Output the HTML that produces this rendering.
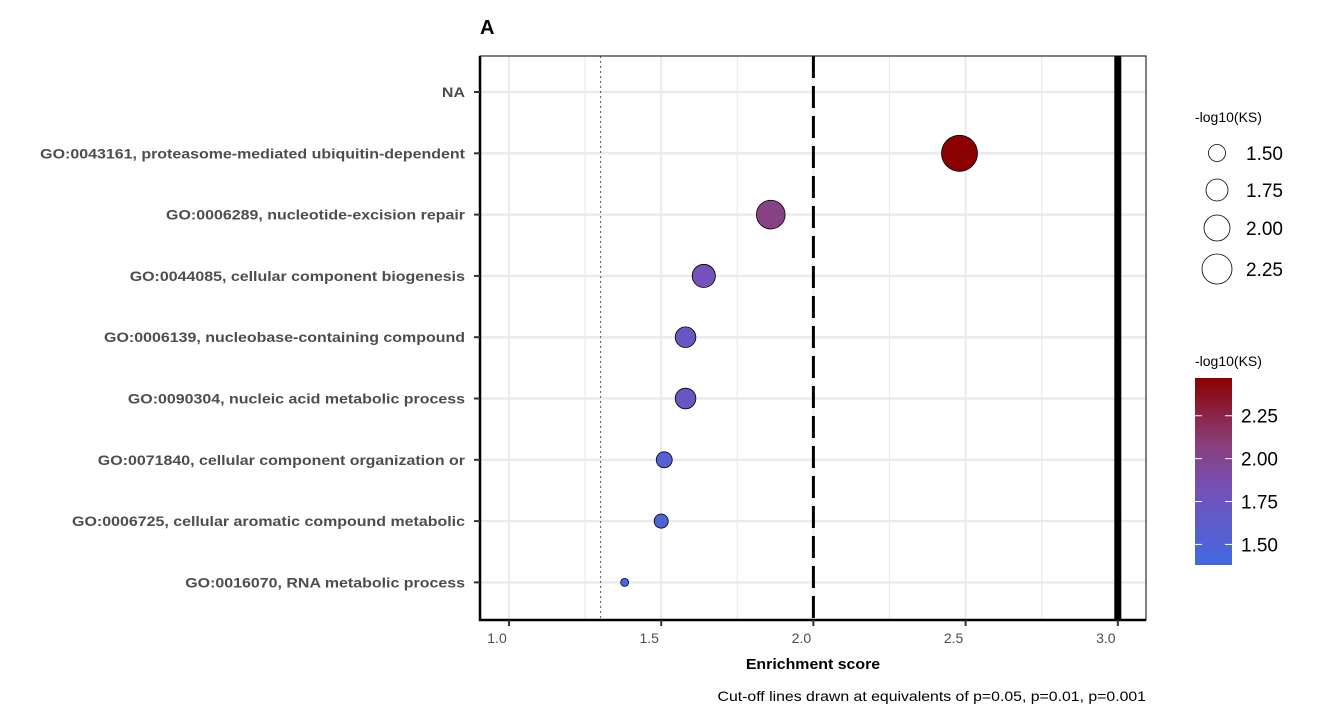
<!DOCTYPE html>
<html><head><meta charset="utf-8"><style>
body{margin:0;background:#fff;width:1320px;height:722px;overflow:hidden}
svg text{font-family:"Liberation Sans",Arial,sans-serif}
</style></head><body>
<svg id="c" width="1320" height="722">
<defs><linearGradient id="g" x1="0" y1="1" x2="0" y2="0">
<stop offset="0" stop-color="#4169E1"/><stop offset="0.4" stop-color="#7551b8"/><stop offset="0.65" stop-color="#8a3f7a"/><stop offset="1" stop-color="#8B0000"/></linearGradient></defs>
</svg>
<script>
const categories=["NA","GO:0043161, proteasome-mediated ubiquitin-dependent","GO:0006289, nucleotide-excision repair","GO:0044085, cellular component biogenesis","GO:0006139, nucleobase-containing compound","GO:0090304, nucleic acid metabolic process","GO:0071840, cellular component organization or","GO:0006725, cellular aromatic compound metabolic","GO:0016070, RNA metabolic process"];
const enrichment=[null,2.48,1.86,1.64,1.58,1.58,1.51,1.50,1.38];
const ksValues=[null,2.47,2.05,1.80,1.70,1.70,1.55,1.50,1.38];
const xTicks=[1.0,1.5,2.0,2.5,3.0];
const xTickLabels=["1.0","1.5","2.0","2.5","3.0"];
const cutoffs=[1.301,2,3];
const sizeLegend=[1.50,1.75,2.00,2.25];
const colorLegend=[1.50,1.75,2.00,2.25];
const svg=document.getElementById('c');
const NS="http://www.w3.org/2000/svg";
function mk(t,a,p){const e=document.createElementNS(NS,t);for(const k in a)e.setAttribute(k,a[k]);(p||svg).appendChild(e);return e;}
function stretch(e,f){const w=e.getComputedTextLength();e.setAttribute('textLength',w*f);e.setAttribute('lengthAdjust','spacingAndGlyphs');}
const L=480,R=1146,T=56,B=620;
const x=v=>509+(v-1)*304.4;
const y=i=>92+i*61.3;
const rad=v=>Math.sqrt(Math.max(4,-374+282.6*v));
function col(v){const t=Math.max(0,Math.min(1,(v-1.38)/(2.47-1.38)));
 const s=[[0,[65,105,225]],[0.4,[117,81,184]],[0.65,[138,63,122]],[1,[139,0,0]]];
 let k=0;while(k<s.length-2&&t>s[k+1][0])k++;const a=s[k],b=s[k+1];
 const u=(t-a[0])/(b[0]-a[0]);return 'rgb('+a[1].map((c,j)=>Math.round(c+(b[1][j]-c)*u)).join(',')+')';}
for(let v=1;v<=3.01;v+=0.25){const g=mk('line',{x1:x(v),x2:x(v),y1:T,y2:B,stroke:'#ebebeb','stroke-width':v*4%2==0?2:1.2});}
categories.forEach((c,i)=>{const g=mk('line',{x1:L,x2:R,y1:y(i),y2:y(i),stroke:'#ebebeb','stroke-width':2.5});});
const cs=[{dash:'2,3',w:1,c:'#555'},{dash:'22,8',w:3,c:'#000'},{dash:'',w:7,c:'#000'}];
cutoffs.forEach((v,k)=>{const e=mk('line',{x1:x(v),x2:x(v),y1:T,y2:B,stroke:cs[k].c,'stroke-width':cs[k].w,'stroke-dasharray':cs[k].dash});});
const bd=mk('rect',{x:L,y:T,width:R-L,height:B-T,fill:'none',stroke:'#000','stroke-width':1});
mk('line',{x1:L,x2:L,y1:T,y2:B+1,stroke:'#000','stroke-width':2.5});
mk('line',{x1:L-1,x2:R,y1:B,y2:B,stroke:'#000','stroke-width':2.5});
categories.forEach((c,i)=>{mk('line',{x1:L-6,x2:L,y1:y(i),y2:y(i),stroke:'#333','stroke-width':2});
 const t=mk('text',{x:465,y:y(i)+5,'text-anchor':'end','font-size':14,'font-weight':'bold',fill:'#4d4d4d'});t.textContent=c;stretch(t,1.14);
 });
xTicks.forEach((v,i)=>{mk('line',{x1:x(v),x2:x(v),y1:B,y2:B+6,stroke:'#333','stroke-width':2});
 const t=mk('text',{x:x(v)-12,y:643,'text-anchor':'middle','font-size':14,fill:'#4d4d4d'});t.textContent=xTickLabels[i];
 });
enrichment.forEach((v,i)=>{if(v==null)return;const p=mk('circle',{cx:x(v),cy:y(i),r:rad(ksValues[i]),fill:col(ksValues[i]),stroke:'#000','stroke-width':0.8});
 });
let t=mk('text',{x:480,y:34,'font-size':20,'font-weight':'bold'});t.textContent='A';
t=mk('text',{x:813,y:669,'text-anchor':'middle','font-size':15,'font-weight':'bold'});t.textContent='Enrichment score';stretch(t,1.06);
t=mk('text',{x:1146,y:701,'text-anchor':'end','font-size':14});t.textContent='Cut-off lines drawn at equivalents of p=0.05, p=0.01, p=0.001';stretch(t,1.13);
t=mk('text',{x:1195,y:122,'font-size':14});t.textContent='-log10(KS)';
const lr=[8.5,11,13,15],ly=[153,190,228,269];
sizeLegend.forEach((v,i)=>{const c=mk('circle',{cx:1217,cy:ly[i],r:lr[i],fill:'none',stroke:'#000','stroke-width':0.8});
 const s=mk('text',{x:1246,y:ly[i]+7,'font-size':19});s.textContent=v.toFixed(2);});
t=mk('text',{x:1195,y:366,'font-size':14});t.textContent='-log10(KS)';
const cb=mk('rect',{x:1195,y:378,width:37,height:187,fill:'url(#g)'});
const cy=v=>565-(v-1.38)/(2.47-1.38)*187;
colorLegend.forEach(v=>{mk('line',{x1:1195,x2:1202,y1:cy(v),y2:cy(v),stroke:'#fff'});mk('line',{x1:1225,x2:1232,y1:cy(v),y2:cy(v),stroke:'#fff'});
 const s=mk('text',{x:1241,y:cy(v)+7,'font-size':19});s.textContent=v.toFixed(2);});
</script>
</body></html>
